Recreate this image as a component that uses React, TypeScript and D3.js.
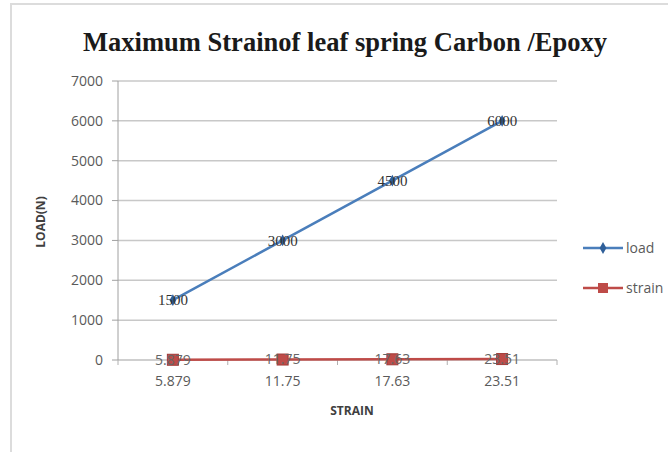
import React from "react";
import * as d3 from "d3";

const categories = ["5.879", "11.75", "17.63", "23.51"];
const loadValues = [1500, 3000, 4500, 6000];
const strainValues = [5.879, 11.75, 17.63, 23.51];
const yTicks = [0, 1000, 2000, 3000, 4000, 5000, 6000, 7000];
const seriesNames = ["load", "strain"];

const W = 668;
const H = 452;
const left = 118;
const right = 557;
const top = 81;
const bottom = 360;

export default function App() {
  const x = d3.scaleBand<string>().domain(categories).range([left, right]).padding(0);
  const y = d3.scaleLinear().domain([0, 7000]).range([bottom, top]);
  const cx = (c: string) => (x(c) as number) + x.bandwidth() / 2;
  const line = d3
    .line<{ c: string; v: number }>()
    .x((d) => cx(d.c))
    .y((d) => y(d.v));
  const loadPts = categories.map((c, i) => ({ c, v: loadValues[i] }));
  const strainPts = categories.map((c, i) => ({ c, v: strainValues[i] }));
  const blue = "#4a7ebb";
  const red = "#be4b48";
  const sans = "'Open Sans', 'Liberation Sans', sans-serif";
  const bounds = [left, ...categories.map((c) => (x(c) as number) + x.bandwidth())];

  return (
    <svg width={W} height={H} style={{ position: "absolute", left: 0, top: 0, background: "#fff" }}>
      <rect x={11} y={4} width={700} height={500} fill="#fff" stroke="#dcdcdc" strokeWidth={2} />
      <text
        x={345}
        y={51}
        textAnchor="middle"
        fontFamily="'Liberation Serif', 'Times New Roman', serif"
        fontWeight="bold"
        fontSize={27}
        textLength={524}
        lengthAdjust="spacingAndGlyphs"
        fill="#1a1a1a"
      >
        Maximum Strainof leaf spring Carbon /Epoxy
      </text>
      {yTicks.map((t) => (
        <g key={t}>
          {t > 0 && <line x1={left} x2={right} y1={y(t)} y2={y(t)} stroke="#c8c8c8" strokeWidth={1.5} />}
          <line x1={left - 6} x2={left} y1={y(t)} y2={y(t)} stroke="#a0a0a0" strokeWidth={1} />
          <text x={103} y={y(t)} dy="0.35em" textAnchor="end" fontFamily={sans} fontSize={14} fill="#5a5a5a">
            {t}
          </text>
        </g>
      ))}
      <line x1={left} x2={left} y1={top} y2={bottom} stroke="#a0a0a0" strokeWidth={1} />
      <line x1={left} x2={right} y1={bottom} y2={bottom} stroke="#a0a0a0" strokeWidth={1.2} />
      {bounds.map((b, i) => (
        <line key={i} x1={b} x2={b} y1={bottom} y2={bottom + 5} stroke="#b0b0b0" strokeWidth={1} />
      ))}
      {categories.map((c) => (
        <text key={c} x={cx(c)} y={386} textAnchor="middle" fontFamily={sans} fontSize={14} fill="#5a5a5a">
          {c}
        </text>
      ))}
      <text
        transform={`translate(41,222) rotate(-90)`}
        textAnchor="middle"
        dy="0.35em"
        fontFamily={sans}
        fontWeight="bold"
        fontSize={12}
        fill="#404040"
      >
        LOAD(N)
      </text>
      <text x={352} y={415} textAnchor="middle" fontFamily={sans} fontWeight="bold" fontSize={12} fill="#404040">
        STRAIN
      </text>
      <path d={line(loadPts) as string} fill="none" stroke={blue} strokeWidth={2.5} />
      {loadPts.map((p) => (
        <path
          key={p.c}
          d={d3.symbol(d3.symbolDiamond, 40)() as string}
          transform={`translate(${cx(p.c)},${y(p.v)})`}
          fill="#2f5f99"
        />
      ))}
      <path d={line(strainPts) as string} fill="none" stroke={red} strokeWidth={2.5} />
      {strainPts.map((p) => (
        <rect key={p.c} x={cx(p.c) - 5.5} y={y(p.v) - 5.5} width={11} height={11} fill={red} stroke="#a03a37" />
      ))}
      {loadPts.map((p) => (
        <text
          key={p.c}
          x={cx(p.c)}
          y={y(p.v)}
          dy="0.35em"
          textAnchor="middle"
          fontFamily="'Liberation Serif', serif"
          fontSize={15}
          fill="#333"
        >
          {p.v}
        </text>
      ))}
      {strainPts.map((p, i) => (
        <text
          key={p.c}
          x={cx(p.c)}
          y={y(p.v)}
          dy="0.35em"
          textAnchor="middle"
          fontFamily={sans}
          fontSize={14}
          fill="#666"
        >
          {categories[i]}
        </text>
      ))}
      <g>
        <line x1={583} x2={623} y1={248} y2={248} stroke={blue} strokeWidth={2.5} />
        <path d={d3.symbol(d3.symbolDiamond, 40)() as string} transform="translate(603,248)" fill="#2f5f99" />
        <text x={626} y={248} dy="0.35em" fontFamily={sans} fontSize={14} fill="#5a5a5a">
          {seriesNames[0]}
        </text>
        <line x1={583} x2={623} y1={288} y2={288} stroke={red} strokeWidth={2.5} />
        <rect x={598} y={283} width={10} height={10} fill={red} />
        <text x={626} y={288} dy="0.35em" fontFamily={sans} fontSize={14} fill="#5a5a5a">
          {seriesNames[1]}
        </text>
      </g>
    </svg>
  );
}
